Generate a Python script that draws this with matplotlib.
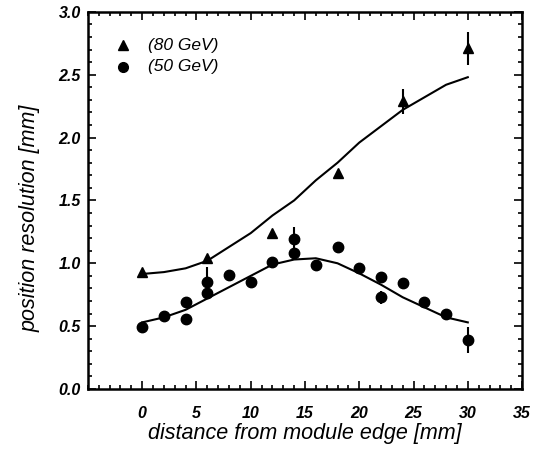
import matplotlib.pyplot as plt
from matplotlib.ticker import MultipleLocator

plt.rcParams['font.family'] = ['Liberation Sans', 'DejaVu Sans']

# 80 GeV measurements
x_80 = [0, 6, 12, 18, 24, 30]
y_80 = [0.93, 1.04, 1.24, 1.72, 2.29, 2.71]
err_80 = [0.0, 0.0, 0.0, 0.0, 0.1, 0.13]

# 50 GeV measurements
x_50 = [0, 2, 4, 4, 6, 6, 8, 10, 12, 14, 14, 16, 18, 20, 22, 22, 24, 26, 28, 30]
y_50 = [0.49, 0.58, 0.69, 0.56, 0.85, 0.76, 0.91, 0.85, 1.01, 1.19, 1.08,
        0.99, 1.13, 0.96, 0.89, 0.73, 0.84, 0.69, 0.60, 0.39]
err_50 = [0.0, 0.0, 0.0, 0.0, 0.12, 0.0, 0.0, 0.0, 0.0, 0.1, 0.0,
          0.0, 0.04, 0.0, 0.0, 0.05, 0.0, 0.0, 0.0, 0.1]

# fitted curves
x_fit = [0, 2, 4, 6, 8, 10, 12, 14, 16, 18, 20, 22, 24, 26, 28, 30]
fit_80 = [0.915, 0.93, 0.96, 1.02, 1.13, 1.24, 1.38, 1.50, 1.66, 1.80,
          1.96, 2.09, 2.22, 2.32, 2.42, 2.48]
fit_50 = [0.53, 0.57, 0.63, 0.72, 0.81, 0.90, 0.99, 1.03, 1.04, 1.00,
          0.92, 0.83, 0.73, 0.65, 0.57, 0.53]

fig = plt.figure(figsize=(5.36, 4.55), dpi=100)
ax = fig.add_axes([0.164, 0.145, 0.81, 0.829])

ax.plot(x_fit, fit_80, color='black', lw=1.5)
ax.plot(x_fit, fit_50, color='black', lw=1.5)

ax.errorbar(x_80, y_80, yerr=err_80, fmt='^', color='black', ms=7.5,
            elinewidth=1.5, capsize=0)
ax.errorbar(x_50, y_50, yerr=err_50, fmt='o', color='black', ms=7.5,
            elinewidth=1.5, capsize=0)

# legend drawn by hand (markers without error bar lines)
ax.plot([0.081], [0.912], '^', color='black', ms=7, transform=ax.transAxes)
ax.plot([0.081], [0.854], 'o', color='black', ms=7, transform=ax.transAxes)
ax.text(0.138, 0.912, '(80 GeV)', transform=ax.transAxes, va='center',
        fontsize=12.5, style='italic')
ax.text(0.138, 0.854, '(50 GeV)', transform=ax.transAxes, va='center',
        fontsize=12.5, style='italic')

ax.set_xlim(-5, 35)
ax.set_ylim(0, 3)
ax.set_xticks([0, 5, 10, 15, 20, 25, 30, 35])
ax.set_yticks([0, 0.5, 1.0, 1.5, 2.0, 2.5, 3.0])
ax.set_yticklabels(['0.0', '0.5', '1.0', '1.5', '2.0', '2.5', '3.0'])
ax.xaxis.set_minor_locator(MultipleLocator(1))
ax.yaxis.set_minor_locator(MultipleLocator(0.1))
ax.tick_params(which='both', direction='in', top=True, right=True, width=1.2)
ax.tick_params(which='major', length=6)
ax.tick_params(which='minor', length=3)
ax.tick_params(axis='x', pad=12)
ax.tick_params(axis='y', pad=5)
for lab in ax.get_xticklabels() + ax.get_yticklabels():
    lab.set_fontsize(11.5)
    lab.set_fontweight('bold')
    lab.set_fontstyle('italic')
for s in ax.spines.values():
    s.set_linewidth(1.8)

ax.set_xlabel('distance from module edge [mm]', fontsize=15.5, style='italic',
              labelpad=2)
ax.set_ylabel('position resolution [mm]', fontsize=15.5, style='italic')
ax.yaxis.set_label_coords(-0.11, 0.452)

fig.savefig('out.png', dpi=100)
